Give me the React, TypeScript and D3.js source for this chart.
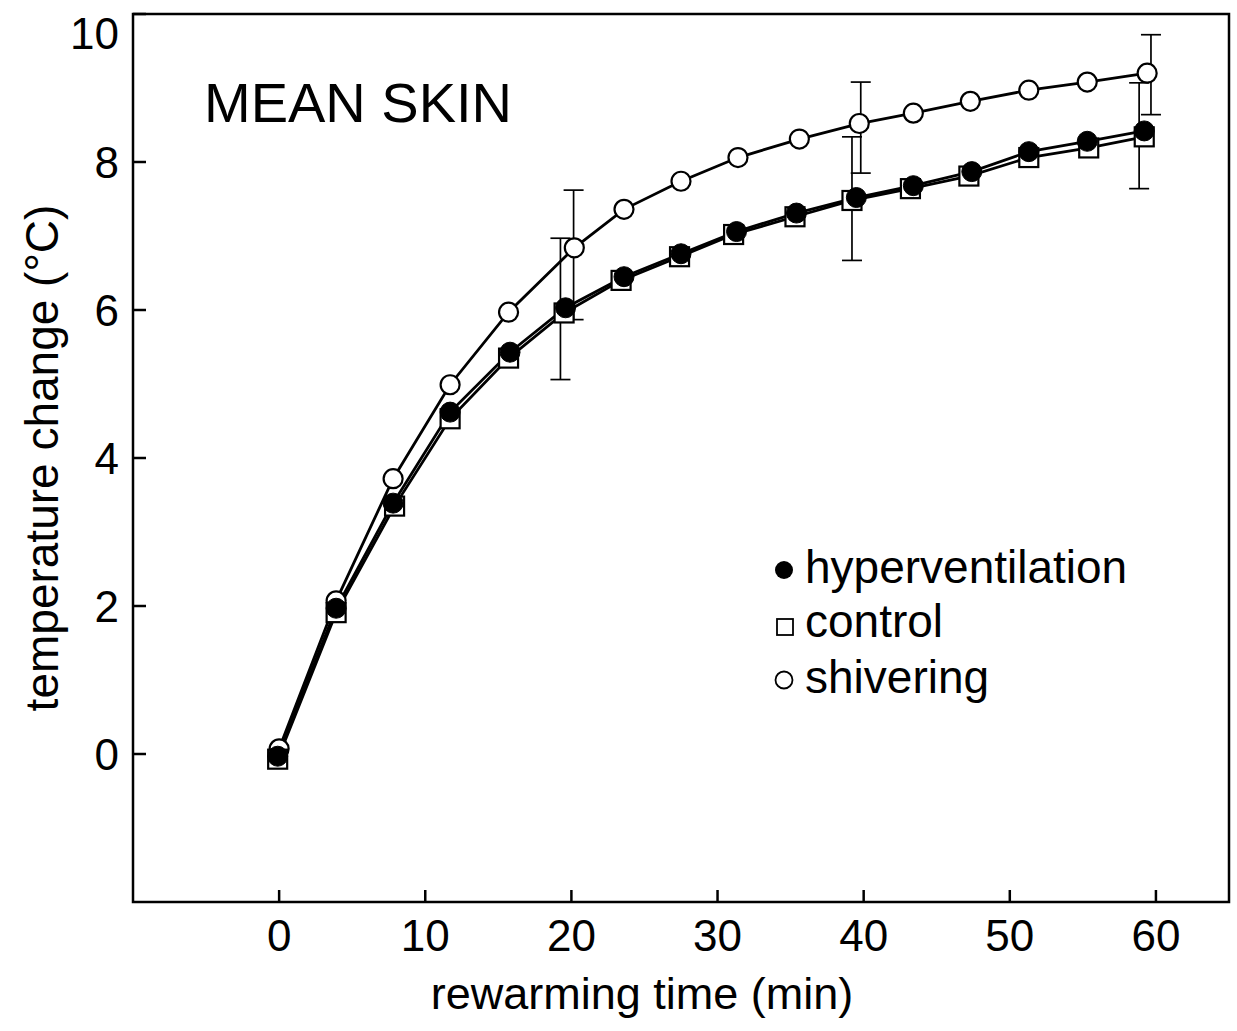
import React from "react";
import * as d3 from "d3";

// ---- data ----
const hyperT = [-0.1, 3.9, 7.8, 11.7, 15.8, 19.6, 23.6, 27.5, 31.3, 35.4, 39.5, 43.4, 47.4, 51.3, 55.3, 59.2];
const hyperV = [-0.03, 1.97, 3.39, 4.62, 5.43, 6.03, 6.45, 6.76, 7.06, 7.31, 7.52, 7.68, 7.87, 8.14, 8.28, 8.42];
const controlT = [-0.1, 3.9, 7.9, 11.7, 15.7, 19.5, 23.4, 27.4, 31.1, 35.3, 39.2, 43.2, 47.2, 51.3, 55.4, 59.2];
const controlV = [-0.07, 1.91, 3.35, 4.53, 5.35, 5.96, 6.4, 6.72, 7.02, 7.26, 7.48, 7.64, 7.81, 8.06, 8.19, 8.34];
const shivT = [0, 3.9, 7.8, 11.7, 15.7, 20.2, 23.6, 27.5, 31.4, 35.6, 39.7, 43.4, 47.3, 51.3, 55.3, 59.4];
const shivV = [0.07, 2.07, 3.72, 4.99, 5.97, 6.84, 7.36, 7.74, 8.06, 8.31, 8.52, 8.66, 8.82, 8.97, 9.08, 9.2];

const hvErrT = [19.25, 39.2, 58.85];
const hvErrLo = [5.06, 6.67, 7.64];
const hvErrHi = [6.97, 8.34, 9.07];
const shErrT = [20.15, 39.8, 59.66];
const shErrLo = [5.87, 7.85, 8.64];
const shErrHi = [7.62, 9.08, 9.72];

const xTicks = [0, 10, 20, 30, 40, 50, 60];
const yTicks = [0, 2, 4, 6, 8, 10];
const legendLabels = ["hyperventilation", "control", "shivering"];

const FONT = "'Liberation Sans', Arial, Helvetica, sans-serif";

export default function App() {
  const left = 133, right = 1229, top = 14, bottom = 902;
  const x = d3.scaleLinear().domain([-10, 65]).range([left, right]);
  const y = d3.scaleLinear().domain([-2, 10]).range([bottom, top]);
  const line = d3.line<[number, number]>().x(d => x(d[0])).y(d => y(d[1]));

  const zip = (a: number[], b: number[]) => a.map((t, i) => [t, b[i]] as [number, number]);
  const hyper = zip(hyperT, hyperV);
  const control = zip(controlT, controlV);
  const shiv = zip(shivT, shivV);

  const errBars = (ts: number[], lo: number[], hi: number[], key: string) =>
    ts.map((t, i) => (
      <g key={key + i} stroke="#000" strokeWidth={1.7}>
        <line x1={x(t)} x2={x(t)} y1={y(lo[i])} y2={y(hi[i])} />
        <line x1={x(t) - 10} x2={x(t) + 10} y1={y(lo[i])} y2={y(lo[i])} />
        <line x1={x(t) - 10} x2={x(t) + 10} y1={y(hi[i])} y2={y(hi[i])} />
      </g>
    ));

  return (
    <svg width={1237} height={1031} style={{ position: "absolute", left: 0, top: 0, background: "#fff" }}>
      <rect x={0} y={0} width={1237} height={1031} fill="#fff" />
      {/* frame */}
      <rect x={left} y={top} width={right - left} height={bottom - top} fill="none" stroke="#000" strokeWidth={2.5} />
      {xTicks.map(t => (
        <g key={"xt" + t}>
          <line x1={x(t)} x2={x(t)} y1={bottom} y2={bottom - 12} stroke="#000" strokeWidth={2.5} />
          <text x={x(t)} y={951} textAnchor="middle" fontFamily={FONT} fontSize={44}>{t}</text>
        </g>
      ))}
      {yTicks.map(v => (
        <g key={"yt" + v}>
          <line x1={left} x2={left + 13} y1={y(v)} y2={y(v)} stroke="#000" strokeWidth={2.5} />
          <text x={119} y={Math.max(y(v), 33) + 16} textAnchor="end" fontFamily={FONT} fontSize={44}>{v}</text>
        </g>
      ))}
      <text x={642} y={1009} textAnchor="middle" fontFamily={FONT} fontSize={45}>rewarming time (min)</text>
      <text transform={`translate(58,458) rotate(-90)`} textAnchor="middle" fontFamily={FONT} fontSize={46}>temperature change (°C)</text>
      <text x={204} y={122} fontFamily={FONT} fontSize={56}>MEAN SKIN</text>

      {errBars(hvErrT, hvErrLo, hvErrHi, "hv")}
      {errBars(shErrT, shErrLo, shErrHi, "sh")}

      <path d={line(shiv) || ""} fill="none" stroke="#000" strokeWidth={2.8} />
      <path d={line(control) || ""} fill="none" stroke="#000" strokeWidth={2.8} />
      <path d={line(hyper) || ""} fill="none" stroke="#000" strokeWidth={2.8} />

      {shiv.map((d, i) => (
        <circle key={"s" + i} cx={x(d[0])} cy={y(d[1])} r={9.5} fill="#fff" stroke="#000" strokeWidth={2.2} />
      ))}
      {control.map((d, i) => (
        <rect key={"c" + i} x={x(d[0]) - 9.5} y={y(d[1]) - 9.5} width={19} height={19} fill="#fff" stroke="#000" strokeWidth={2.2} />
      ))}
      {hyper.map((d, i) => (
        <circle key={"h" + i} cx={x(d[0])} cy={y(d[1])} r={10} fill="#000" stroke="#000" strokeWidth={1} />
      ))}

      {/* legend */}
      <circle cx={784} cy={570} r={9} fill="#000" />
      <rect x={777} y={619} width={16} height={16} fill="#fff" stroke="#000" strokeWidth={1.8} />
      <circle cx={784} cy={680} r={8.5} fill="#fff" stroke="#000" strokeWidth={1.8} />
      {legendLabels.map((l, i) => (
        <text key={l} x={805} y={[583, 637, 693][i]} fontFamily={FONT} fontSize={46}>{l}</text>
      ))}
    </svg>
  );
}
